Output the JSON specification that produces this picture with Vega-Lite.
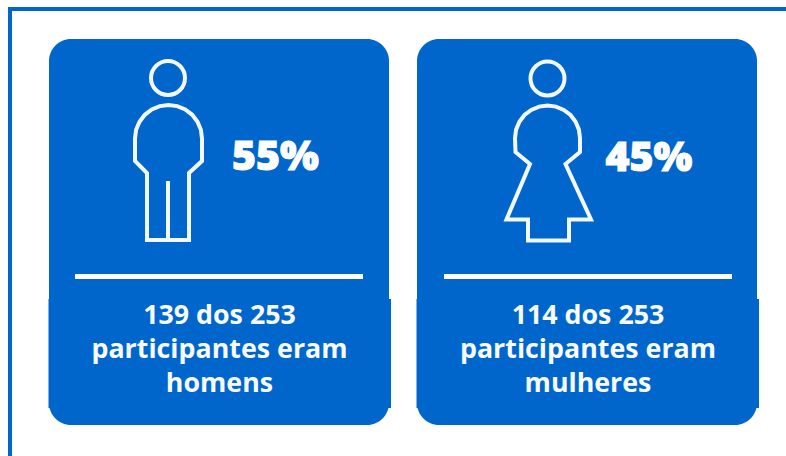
{
"$schema":"https://vega.github.io/schema/vega-lite/v6.json",
"autosize":{"type":"fit","contains":"padding"},
"width":786,"height":456,"padding":0,"background":"white",
"config":{"view":{"stroke":null}},
"datasets":{
"blocks":[
{"part":"frame top","x":8,"x2":786,"y":7,"y2":11},
{"part":"frame left","x":8,"x2":12,"y":7,"y2":456},
{"part":"men lower panel","x":48.5,"x2":391,"y":299,"y2":408},
{"part":"women lower panel","x":416.5,"x2":759,"y":299,"y2":408}
],
"cards":[
{"card":"homens","x":49,"x2":389,"y":39,"y2":425},
{"card":"mulheres","x":417,"x2":757,"y":39,"y2":425}
],
"seps":[
{"card":"homens","x":75,"x2":363,"y":274,"y2":279},
{"card":"mulheres","x":444,"x2":732,"y":274,"y2":279}
],
"heads":[{"card":"homens","x":168,"y":78},{"card":"mulheres","x":547.5,"y":78.5}],
"outline":[
{"p":"m","i":0,"x":147,"y":240},{"p":"m","i":1,"x":147,"y":173},{"p":"m","i":2,"x":135,"y":161},{"p":"m","i":3,"x":135,"y":138.5},{"p":"m","i":4,"x":136.1,"y":129.8},{"p":"m","i":5,"x":139.5,"y":121.75},{"p":"m","i":6,"x":144.8,"y":114.8},{"p":"m","i":7,"x":151.75,"y":109.5},{"p":"m","i":8,"x":159.8,"y":106.1},{"p":"m","i":9,"x":168.5,"y":105},{"p":"m","i":10,"x":177.2,"y":106.1},{"p":"m","i":11,"x":185.25,"y":109.5},{"p":"m","i":12,"x":192.2,"y":114.8},{"p":"m","i":13,"x":197.5,"y":121.75},{"p":"m","i":14,"x":200.9,"y":129.8},{"p":"m","i":15,"x":202,"y":138.5},{"p":"m","i":16,"x":202,"y":161},{"p":"m","i":17,"x":189,"y":173},{"p":"m","i":18,"x":189,"y":240},{"p":"m","i":19,"x":147,"y":240},
{"p":"leg","i":0,"x":168,"y":183},{"p":"leg","i":1,"x":168,"y":240},
{"p":"f","i":0,"x":528,"y":240.5},{"p":"f","i":1,"x":528,"y":219.5},{"p":"f","i":2,"x":506.5,"y":219.5},{"p":"f","i":3,"x":530,"y":164},{"p":"f","i":4,"x":515.5,"y":152},{"p":"f","i":5,"x":515,"y":138},{"p":"f","i":6,"x":516.1,"y":129.6},{"p":"f","i":7,"x":519.4,"y":121.75},{"p":"f","i":8,"x":524.5,"y":115},{"p":"f","i":9,"x":531.25,"y":109.9},{"p":"f","i":10,"x":539.1,"y":106.6},{"p":"f","i":11,"x":547.5,"y":105.5},{"p":"f","i":12,"x":555.9,"y":106.6},{"p":"f","i":13,"x":563.75,"y":109.9},{"p":"f","i":14,"x":570.5,"y":115},{"p":"f","i":15,"x":575.6,"y":121.75},{"p":"f","i":16,"x":578.9,"y":129.6},{"p":"f","i":17,"x":580,"y":138},{"p":"f","i":18,"x":580,"y":152},{"p":"f","i":19,"x":565.5,"y":164},{"p":"f","i":20,"x":591,"y":219.5},{"p":"f","i":21,"x":569,"y":219.5},{"p":"f","i":22,"x":569,"y":240.5},{"p":"f","i":23,"x":528,"y":240.5}
],
"pct":[{"t":"55%","x":275.5,"y":170},{"t":"45%","x":649,"y":171}],
"cap":[
{"t":"139 dos 253","x":219.5,"y":324},{"t":"participantes eram","x":219.5,"y":358},{"t":"homens","x":219.5,"y":392},
{"t":"114 dos 253","x":588,"y":324},{"t":"participantes eram","x":588,"y":358},{"t":"mulheres","x":588,"y":392}
]
},
"encoding":{
"x":{"field":"x","type":"quantitative","scale":{"domain":[0,786],"nice":false,"zero":false},"axis":null},
"y":{"field":"y","type":"quantitative","scale":{"domain":[456,0],"nice":false,"zero":false},"axis":null}
},
"layer":[
{"data":{"name":"blocks"},"mark":{"type":"rect","color":"#0066CC"},"encoding":{"x2":{"field":"x2"},"y2":{"field":"y2"}}},
{"data":{"name":"cards"},"mark":{"type":"rect","color":"#0066CC","cornerRadius":22},"encoding":{"x2":{"field":"x2"},"y2":{"field":"y2"}}},
{"data":{"name":"seps"},"mark":{"type":"rect","color":"white"},"encoding":{"x2":{"field":"x2"},"y2":{"field":"y2"}}},
{"data":{"name":"heads"},"mark":{"type":"point","shape":"circle","filled":false,"stroke":"#F2F8FD","strokeWidth":4,"size":1156,"opacity":1}},
{"data":{"name":"outline"},"mark":{"type":"line","stroke":"#F2F8FD","strokeWidth":4,"strokeJoin":"miter","strokeCap":"square"},"encoding":{"detail":{"field":"p"},"order":{"field":"i","type":"quantitative"}}},
{"data":{"name":"pct"},"mark":{"type":"text","color":"white","stroke":"white","strokeWidth":1,"font":"Open Sans","fontWeight":800,"fontSize":41,"align":"center","baseline":"alphabetic"},"encoding":{"text":{"field":"t"}}},
{"data":{"name":"cap"},"mark":{"type":"text","color":"#F8FBFE","font":"Open Sans","fontWeight":700,"fontSize":26.8,"align":"center","baseline":"alphabetic"},"encoding":{"text":{"field":"t"}}}
]
}
